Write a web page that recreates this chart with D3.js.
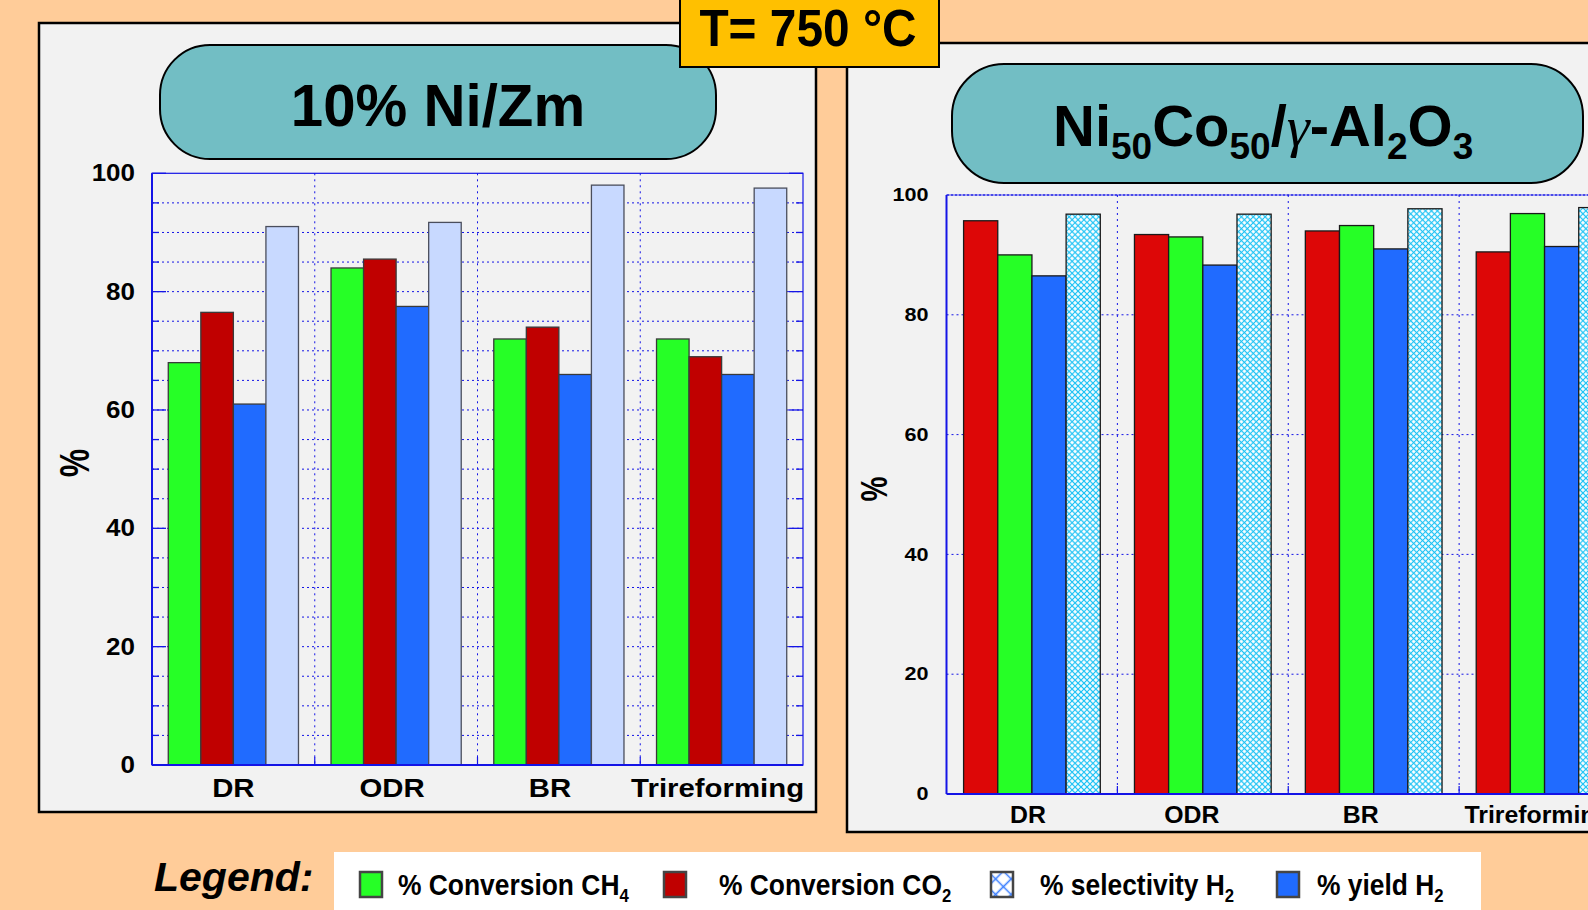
<!DOCTYPE html>
<html><head><meta charset="utf-8">
<script src="https://cdn.jsdelivr.net/npm/d3@7"></script>
<style>
html,body{margin:0;padding:0;background:#FFCC99;overflow:hidden}
svg{display:block}
text{font-family:"Liberation Sans",Arial,Helvetica,sans-serif;font-weight:bold;fill:#000}
</style></head><body>
<svg id="fig" width="1588" height="910"></svg>
<script>
// ---- data ----
const categories = ["DR", "ODR", "BR", "Trireforming"];
const yTicks = [0, 20, 40, 60, 80, 100];

// 10% Ni/Zm
const zmConvCH4 = [68, 84, 72, 72];
const zmConvCO2 = [76.5, 85.5, 74, 69];
const zmYieldH2 = [61, 77.5, 66, 66];
const zmSelH2   = [91, 91.7, 98, 97.5];

// Ni50Co50/γ-Al2O3
const ncConvCO2 = [95.7, 93.4, 94.0, 90.5];
const ncConvCH4 = [90.0, 93.0, 94.9, 96.9];
const ncYieldH2 = [86.5, 88.3, 91.0, 91.4];
const ncSelH2   = [96.8, 96.8, 97.7, 97.9];

const legendLabels = ["% Conversion CH", "% Conversion CO", "% selectivity H", "% yield H"];
const legendSubs   = ["4", "2", "2", "2"];

// ---- drawing ----
const svg = d3.select("#fig");
const BLUE = "#1414E6";

const defs = svg.append("defs");
function crossHatch(id, size, color, width) {
  const p = defs.append("pattern").attr("id", id)
    .attr("patternUnits", "userSpaceOnUse")
    .attr("width", size).attr("height", size)
    .attr("patternTransform", "rotate(45)");
  p.append("rect").attr("width", size).attr("height", size).attr("fill", "#ffffff");
  p.append("path").attr("d", `M0,${size/2}H${size}M${size/2},0V${size}`)
    .attr("stroke", color).attr("stroke-width", width).attr("fill", "none");
}
crossHatch("xhatch", 4.2, "#1CC2F4", 1.1);
crossHatch("xhatchLg", 11, "#3A7EFF", 1.6);

svg.append("rect").attr("width", 1588).attr("height", 910).attr("fill", "#FFCC99");

// panels
svg.append("rect").attr("x", 39).attr("y", 23).attr("width", 777).attr("height", 789)
  .attr("fill", "#F2F2F2").attr("stroke", "#000").attr("stroke-width", 2.5);
svg.append("rect").attr("x", 847).attr("y", 43).attr("width", 820).attr("height", 789)
  .attr("fill", "#F2F2F2").attr("stroke", "#000").attr("stroke-width", 2.5);

// title pills
svg.append("rect").attr("x", 160).attr("y", 45).attr("width", 556).attr("height", 114)
  .attr("rx", 50).attr("fill", "#72BEC4").attr("stroke", "#000").attr("stroke-width", 2);
svg.append("rect").attr("x", 952).attr("y", 64).attr("width", 631).attr("height", 119)
  .attr("rx", 52).attr("fill", "#72BEC4").attr("stroke", "#000").attr("stroke-width", 2);

function stretched(parent, x, y, str, size, sx, anchor) {
  return parent.append("text")
    .attr("transform", `translate(${x},${y}) scale(${sx},1)`)
    .attr("text-anchor", anchor || "start")
    .style("font-size", size + "px")
    .text(str);
}

stretched(svg, 438, 126, "10% Ni/Zm", 60, 0.97, "middle");

// Ni50Co50/γ-Al2O3 title with subscripts
const t2 = svg.append("text").attr("x", 1053).attr("y", 146).style("font-size", "58px");
const parts = [["Ni", 0], ["50", 1], ["Co", 0], ["50", 1], ["/", 0], ["γ", 2], ["-Al", 0], ["2", 1], ["O", 0], ["3", 1]];
let prevSub = false;
parts.forEach(([s, kind]) => {
  const ts = t2.append("tspan").text(s);
  if (kind === 1) {
    ts.style("font-size", "37px").attr("dy", prevSub ? 0 : 13);
    prevSub = true;
  } else {
    ts.attr("dy", prevSub ? -13 : 0);
    prevSub = false;
    if (kind === 2) ts.style("font-family", "'Liberation Serif','DejaVu Serif',serif")
      .style("font-style", "italic").style("font-weight", "normal");
  }
});

function plot(o) {
  const g = svg.append("g");
  const x0 = d3.scaleBand().domain(categories).range(o.xr).paddingInner(0.2).paddingOuter(0.1);
  const x1 = d3.scaleBand().domain(o.series.map(s => s.key)).range([0, x0.bandwidth()]);
  const y = d3.scaleLinear().domain([0, 100]).range(o.yr);
  const step = x0.step();
  const bounds = categories.slice(1).map(c => x0(c) - step * x0.paddingInner() / 2);

  // horizontal dotted grid
  g.selectAll(".hg").data(o.gridVals).join("line")
    .attr("x1", o.xr[0]).attr("x2", o.xr[1])
    .attr("y1", d => y(d)).attr("y2", d => y(d))
    .attr("stroke", BLUE).attr("stroke-width", 1).attr("stroke-dasharray", "2,3");
  // vertical dotted separators
  g.selectAll(".vg").data(bounds).join("line")
    .attr("x1", d => d).attr("x2", d => d)
    .attr("y1", o.yr[1]).attr("y2", o.yr[0])
    .attr("stroke", BLUE).attr("stroke-width", 1).attr("stroke-dasharray", "2,4");
  g.selectAll(".vt").data(bounds).join("line")
    .attr("x1", d => d).attr("x2", d => d)
    .attr("y1", o.yr[0]).attr("y2", o.yr[0] - 8)
    .attr("stroke", BLUE).attr("stroke-width", 1.2);

  // inward ticks
  if (o.ticks) {
    const tv = d3.range(0, 101, 5);
    [o.xr[0], o.xr[1]].forEach((ax, side) => {
      const dir = side === 0 ? 1 : -1;
      g.selectAll(null).data(tv).join("line")
        .attr("x1", ax).attr("x2", d => ax + dir * (d % 20 === 0 ? 14 : 7))
        .attr("y1", d => y(d)).attr("y2", d => y(d))
        .attr("stroke", BLUE).attr("stroke-width", 1.3);
    });
  }

  // bars
  o.series.forEach(s => {
    g.selectAll(null).data(categories).join("rect")
      .attr("x", c => x0(c) + x1(s.key))
      .attr("y", (c, i) => y(s.values[i]))
      .attr("width", x1.bandwidth())
      .attr("height", (c, i) => y(0) - y(s.values[i]))
      .attr("fill", s.fill)
      .attr("stroke", s.stroke).attr("stroke-width", 1.3);
  });

  // frame
  if (o.fullFrame) {
    g.append("rect").attr("x", o.xr[0]).attr("y", o.yr[1])
      .attr("width", o.xr[1] - o.xr[0]).attr("height", o.yr[0] - o.yr[1])
      .attr("fill", "none").attr("stroke", BLUE).attr("stroke-width", 1.2);
  } else {
    g.append("line").attr("x1", o.xr[0]).attr("x2", o.xr[1])
      .attr("y1", o.yr[1]).attr("y2", o.yr[1])
      .attr("stroke", BLUE).attr("stroke-width", 1.6).attr("stroke-dasharray", "3,1");
  }
  g.append("line").attr("x1", o.xr[0]).attr("x2", o.xr[0])
    .attr("y1", o.yr[0]).attr("y2", o.yr[1]).attr("stroke", BLUE).attr("stroke-width", 2);
  g.append("line").attr("x1", o.xr[0]).attr("x2", o.xr[1])
    .attr("y1", o.yr[0]).attr("y2", o.yr[0]).attr("stroke", BLUE).attr("stroke-width", 2);

  // y axis labels
  const ya = g.append("g").attr("transform", `translate(${o.xr[0]},0)`)
    .call(d3.axisLeft(y).tickValues(yTicks).tickSize(0).tickPadding(o.yPad));
  ya.select(".domain").remove();
  ya.selectAll("text")
    .style("font-size", o.yFont + "px").style("font-weight", "bold")
    .style("font-family", "'Liberation Sans',Arial,sans-serif").attr("fill", "#000")
    .attr("x", -o.yPad / o.ySx).attr("transform", `scale(${o.ySx},1)`);

  // category labels (set slightly off-centre, as typeset)
  const xa = g.append("g").attr("transform", `translate(0,${o.yr[0]})`)
    .call(d3.axisBottom(x0).tickSize(0).tickPadding(o.xPad));
  xa.select(".domain").remove();
  xa.selectAll("text")
    .style("font-size", o.xFont + "px").style("font-weight", "bold")
    .style("font-family", "'Liberation Sans',Arial,sans-serif").attr("fill", "#000")
    .attr("x", (d, i) => o.xNudge[i] / o.xSx)
    .attr("transform", `scale(${o.xSx},1)`);

  // "%" axis title
  svg.append("text")
    .attr("transform", `translate(${o.pct[0]},${o.pct[1]}) rotate(-90) scale(1,${o.pct[3]})`)
    .attr("text-anchor", "middle").attr("dy", "0.36em")
    .style("font-size", o.pct[2] + "px").text("%");
}

plot({
  xr: [152, 803], yr: [765, 173.3],
  gridVals: d3.range(5, 100, 5), ticks: true, fullFrame: true,
  series: [
    { key: "ch4", values: zmConvCH4, fill: "#26FF26", stroke: "#3a3a3a" },
    { key: "co2", values: zmConvCO2, fill: "#C00000", stroke: "#3a3a3a" },
    { key: "yield", values: zmYieldH2, fill: "#206BFF", stroke: "#3a3a3a" },
    { key: "sel", values: zmSelH2, fill: "#C8D9FF", stroke: "#4a4e5c" }
  ],
  yPad: 17, yFont: 23, ySx: 1.13,
  xPad: 14, xFont: 26, xSx: 1.13, xNudge: [0, -4, -9, -4],
  pct: [74, 463, 32, 1.3]
});

plot({
  xr: [946.5, 1630], yr: [794, 195],
  gridVals: [20, 40, 60, 80], ticks: false, fullFrame: false,
  series: [
    { key: "co2", values: ncConvCO2, fill: "#DD0707", stroke: "#1a1a1a" },
    { key: "ch4", values: ncConvCH4, fill: "#26FF26", stroke: "#1a1a1a" },
    { key: "yield", values: ncYieldH2, fill: "#206BFF", stroke: "#1a1a1a" },
    { key: "sel", values: ncSelH2, fill: "url(#xhatch)", stroke: "#1a1a1a" }
  ],
  yPad: 18, yFont: 18, ySx: 1.2,
  xPad: 13, xFont: 23, xSx: 1.08, xNudge: [-4, -11, -13, -7],
  pct: [873, 489, 28, 1.35]
});

// temperature box
svg.append("rect").attr("x", 680).attr("y", -3).attr("width", 259).attr("height", 70)
  .attr("fill", "#FFC000").attr("stroke", "#000").attr("stroke-width", 2);
stretched(svg, 808, 46, "T= 750 °C", 52, 0.92, "middle");

// legend
svg.append("text").attr("x", 154).attr("y", 891)
  .style("font-size", "41px").style("font-style", "italic").text("Legend:");
svg.append("rect").attr("x", 334).attr("y", 852).attr("width", 1147).attr("height", 62)
  .attr("fill", "#ffffff");
const legendFills = ["#26FF26", "#C00000", "url(#xhatchLg)", "#206BFF"];
const legendBoxX = [360, 664, 991, 1277];
const legendTextX = [398, 719, 1040, 1317];
legendLabels.forEach((lab, i) => {
  svg.append("rect").attr("x", legendBoxX[i]).attr("y", 872).attr("width", 22).attr("height", 25)
    .attr("fill", legendFills[i]).attr("stroke", "#454545").attr("stroke-width", 2.5);
  const t = svg.append("text")
    .attr("transform", `translate(${legendTextX[i]},895) scale(0.88,1)`)
    .style("font-size", "30px");
  t.append("tspan").text(lab);
  t.append("tspan").attr("dy", 7).style("font-size", "19px").text(legendSubs[i]);
});
</script>
</body></html>
